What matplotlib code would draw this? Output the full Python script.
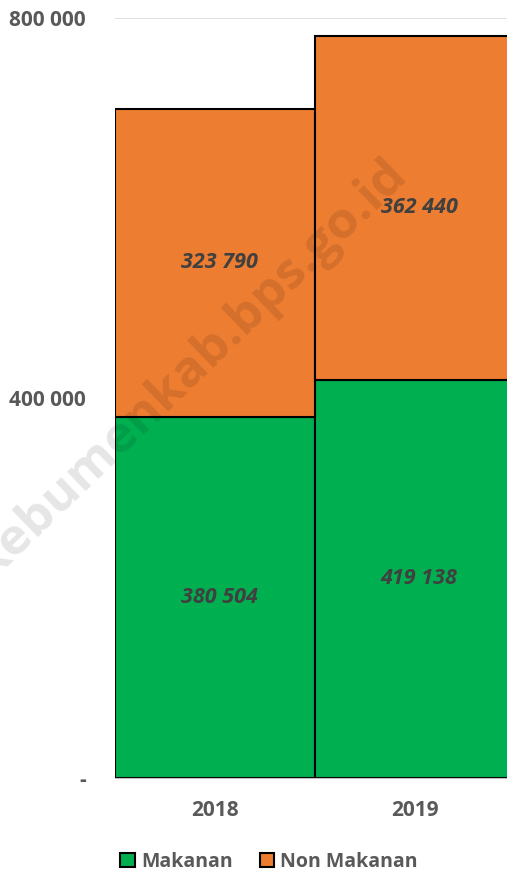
import matplotlib.pyplot as plt
import numpy as np

years = ['2018', '2019']
makanan = [380504, 419138]
non_makanan = [323790, 362440]

plt.rcParams['font.family'] = ['Open Sans', 'DejaVu Sans']

fig = plt.figure(figsize=(5.07, 8.74), dpi=100)
ax = fig.add_axes([115 / 507, 96 / 874, 392 / 507, 760 / 874])

x = np.arange(len(years))
b1 = ax.bar(x, makanan, width=1.0, color='#00B050', edgecolor='black', linewidth=1.5,
            label='Makanan', zorder=3)
b2 = ax.bar(x, non_makanan, width=1.0, bottom=makanan, color='#ED7D31', edgecolor='black',
            linewidth=1.5, label='Non Makanan', zorder=3)


def fmt(v):
    return f"{v:,}".replace(',', ' ')


for i in range(len(years)):
    ax.text(x[i] + 0.02, makanan[i] / 2, fmt(makanan[i]), ha='center', va='center',
            fontsize=15.5, fontweight='bold', fontstyle='italic', color='#404040', zorder=5)
    ax.text(x[i] + 0.02, makanan[i] + non_makanan[i] / 2, fmt(non_makanan[i]), ha='center',
            va='center', fontsize=15.5, fontweight='bold', fontstyle='italic', color='#404040',
            zorder=5)

ax.set_xlim(-0.5, -0.5 + 392 / 200)
ax.set_ylim(0, 800000)
ax.set_yticks([0, 400000, 800000])
ax.set_yticklabels(['-', '400 000', '800 000'])
ax.set_xticks(x)
ax.set_xticklabels(years)
ax.tick_params(axis='y', length=0, pad=21, labelsize=15, labelcolor='#595959')
ax.tick_params(axis='x', length=0, pad=16, labelsize=15, labelcolor='#595959')
for lbl in ax.get_xticklabels() + ax.get_yticklabels():
    lbl.set_fontweight('bold')

ax.grid(axis='y', color='#d9d9d9', linewidth=1.2, zorder=0)
for s in ['top', 'right', 'left']:
    ax.spines[s].set_visible(False)
ax.spines['bottom'].set_color('#bfbfbf')
ax.spines['bottom'].set_zorder(4)

# watermark (cut off at the left edge, as in the original)
fig.text(190 / 507, 1 - 368 / 874, 'kebumenkab.bps.go.id', rotation=44, ha='center',
         va='center', fontsize=37, fontweight='bold', color='black', alpha=0.1, zorder=10)

leg = fig.legend(handles=[b1, b2], loc='center', bbox_to_anchor=(269 / 507, 1 - 862 / 874),
                 ncol=2, frameon=False, fontsize=14, handlelength=0.75, handleheight=0.75,
                 handletextpad=0.3, columnspacing=1.4)
for t in leg.get_texts():
    t.set_color('#595959')
    t.set_fontweight('bold')

fig.savefig('out.png', dpi=100)
